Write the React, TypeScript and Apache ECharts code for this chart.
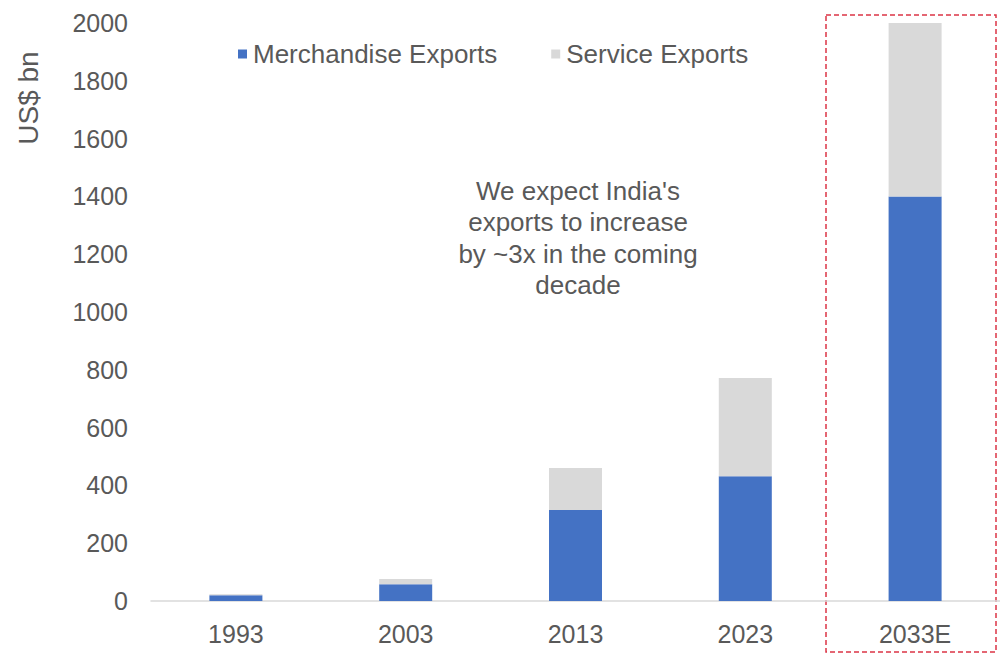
import React, { useEffect, useRef } from "react";
import * as echarts from "echarts";

const categories = ["1993", "2003", "2013", "2023", "2033E"];
const merchandise = [20, 58, 315, 432, 1400];
const services = [3, 18, 145, 340, 600];
const yTicks = { min: 0, max: 2000, interval: 200 };
const seriesNames = ["Merchandise Exports", "Service Exports"];
const yAxisTitle = "US$ bn";
const noteLines = ["We expect India's", "exports to increase", "by ~3x in the coming", "decade"];

const FONT = "'Liberation Sans', Arial, sans-serif";
const TXT = "#595959";

export default function App() {
  const ref = useRef<HTMLDivElement>(null);
  useEffect(() => {
    if (!ref.current) return;
    const chart = echarts.init(ref.current, undefined, { renderer: "svg" });
    chart.setOption({
      animation: false,
      backgroundColor: "#ffffff",
      textStyle: { fontFamily: FONT },
      grid: { left: 151, top: 23, width: 853, bottom: 53 },
      legend: {
        left: 238,
        top: 41,
        padding: 0,
        icon: "rect",
        itemWidth: 9,
        itemHeight: 9,
        itemGap: 54,
        textStyle: { fontSize: 26, color: TXT, fontFamily: FONT, padding: [0, 0, 0, 1] },
        data: seriesNames,
      },
      xAxis: {
        type: "category",
        data: categories,
        axisLine: { lineStyle: { color: "#d9d9d9", width: 1.5 } },
        axisTick: { show: false },
        axisLabel: { fontSize: 25, color: TXT, margin: 20, fontFamily: FONT },
      },
      yAxis: {
        type: "value",
        min: yTicks.min,
        max: yTicks.max,
        interval: yTicks.interval,
        splitLine: { show: false },
        axisLine: { show: false },
        axisTick: { show: false },
        axisLabel: {
          fontSize: 25,
          color: TXT,
          margin: 23,
          fontFamily: FONT,
          formatter: (v: number) => String(v),
        },
      },
      series: [
        {
          name: seriesNames[0],
          type: "bar",
          stack: "total",
          data: merchandise,
          barWidth: 53,
          itemStyle: { color: "#4472C4" },
        },
        {
          name: seriesNames[1],
          type: "bar",
          stack: "total",
          data: services,
          barWidth: 53,
          itemStyle: { color: "#D9D9D9" },
        },
      ],
      graphic: [
        {
          type: "text",
          x: 28,
          y: 98,
          rotation: Math.PI / 2,
          style: {
            text: yAxisTitle,
            fontSize: 28,
            fill: TXT,
            fontFamily: FONT,
            align: "center",
            verticalAlign: "middle",
          },
        },
        {
          type: "text",
          x: 578,
          y: 238,
          style: {
            text: noteLines.join("\n"),
            fontSize: 26,
            lineHeight: 31.5,
            fill: TXT,
            fontFamily: FONT,
            align: "center",
            verticalAlign: "middle",
          },
        },
        {
          type: "rect",
          shape: { x: 826, y: 15, width: 170, height: 637 },
          style: { fill: "none", stroke: "#dc3545", lineWidth: 1.5, lineDash: [5, 3] },
        },
      ],
    });
    return () => chart.dispose();
  }, []);
  return (
    <div
      ref={ref}
      style={{ position: "fixed", left: 0, top: 0, width: 1000, height: 654 }}
    />
  );
}
